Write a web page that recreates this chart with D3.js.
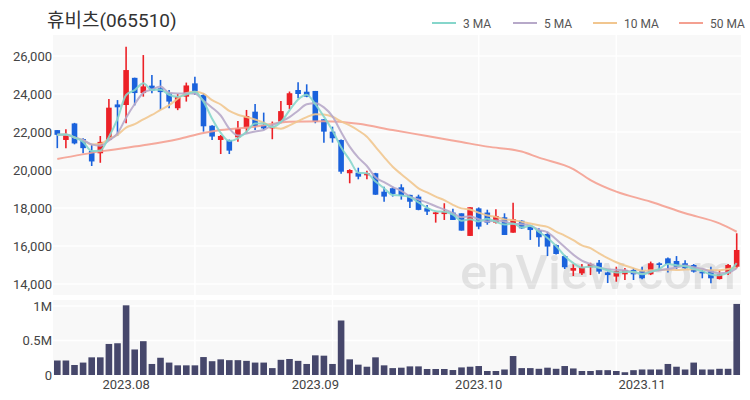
<!DOCTYPE html>
<html><head><meta charset="utf-8">
<script src="https://cdn.jsdelivr.net/npm/d3@7"></script>
<style>
body{margin:0;background:#fff}
text{font-family:Roboto,"Noto Sans CJK KR","Noto Sans",sans-serif}
</style>
</head><body>
<svg id="c" width="750" height="400"></svg>
<script>
const dates = [
"2023-07-20","2023-07-21","2023-07-24","2023-07-25","2023-07-26","2023-07-27","2023-07-28","2023-07-31",
"2023-08-01","2023-08-02","2023-08-03","2023-08-04","2023-08-07","2023-08-08","2023-08-09","2023-08-10","2023-08-11","2023-08-14","2023-08-16","2023-08-17","2023-08-18","2023-08-21","2023-08-22","2023-08-23","2023-08-24","2023-08-25","2023-08-28","2023-08-29","2023-08-30","2023-08-31",
"2023-09-01","2023-09-04","2023-09-05","2023-09-06","2023-09-07","2023-09-08","2023-09-11","2023-09-12","2023-09-13","2023-09-14","2023-09-15","2023-09-18","2023-09-19","2023-09-20","2023-09-21","2023-09-22","2023-09-25","2023-09-26","2023-09-27",
"2023-10-04","2023-10-05","2023-10-06","2023-10-10","2023-10-11","2023-10-12","2023-10-13","2023-10-16","2023-10-17","2023-10-18","2023-10-19","2023-10-20","2023-10-23","2023-10-24","2023-10-25","2023-10-26","2023-10-27","2023-10-30","2023-10-31",
"2023-11-01","2023-11-02","2023-11-03","2023-11-06","2023-11-07","2023-11-08","2023-11-09","2023-11-10","2023-11-13","2023-11-14","2023-11-15","2023-11-16"];

const openP = [22100,21580,22450,21630,21000,20880,21580,23450,23420,24850,24050,24440,24300,24040,23250,23860,24560,23950,22330,21580,
21580,21720,22190,23070,22370,22190,22550,23420,24210,24120,24160,22670,22020,21580,19830,19860,19720,19830,18860,19040,
19090,18690,18600,17990,17680,17680,17760,17720,16530,17980,17760,17230,17510,16700,17330,17020,16840,16630,16050,15470,
14700,14560,14880,15120,14610,14390,14510,14740,14680,14510,15090,15350,15210,15090,15000,14650,14740,14260,14560,14910];
const highP = [22100,22140,22480,21670,21320,21790,23740,23680,26490,24860,26050,25000,24740,24210,24000,24600,24910,24040,22350,21840,
21600,22580,23160,23470,23020,22550,23630,24130,24620,24510,24160,22670,22280,21600,20040,20120,19960,19850,19120,19120,
19250,18700,18700,18160,17790,18250,17960,17720,18040,18030,17910,17930,17720,18280,17360,17060,16930,16750,16080,15530,
15050,15050,15120,15260,14650,14910,14840,14840,14910,15180,15140,15390,15470,15250,15050,14740,14910,14740,15050,16670];
const lowP = [21150,21140,21350,20880,20210,20380,21550,21800,22460,23400,23860,24040,23160,23250,23150,23600,23950,22020,21580,20840,
20840,21490,21930,22100,22100,21620,22460,23200,23770,23830,22460,21440,21440,19800,19300,19510,19510,18690,18330,18600,
18440,18000,17880,17630,17230,17370,17370,16810,16530,16880,17120,17190,16580,16700,16900,16320,15960,15470,15550,14790,
14420,14470,14470,14540,14050,14120,14210,14210,14250,14470,14740,14610,14790,14790,14600,14300,14040,14240,14470,14830];
const closeP = [21850,21880,21400,21150,20450,21480,23280,23300,25260,24050,24400,24180,24100,23600,23850,24450,24040,22300,21760,21790,
21020,22190,22840,22300,22190,22280,23100,24040,24000,23860,22550,22020,21670,19910,20000,19650,19830,18700,18600,18740,
18650,18330,17900,17810,17770,17810,17370,16810,18040,17020,17230,17580,16580,17410,16930,16840,16460,15970,15580,14880,
14840,14880,15050,14650,14470,14680,14740,14510,14300,15090,15000,15050,14910,14830,14650,14560,14300,14510,15000,15790];
const volume = [210000,210000,145000,180000,256000,256000,450000,460000,1010000,370000,490000,160000,250000,180000,140000,140000,140000,260000,200000,227000,
215000,215000,205000,180000,180000,100000,220000,232000,205000,160000,285000,280000,160000,790000,227000,150000,120000,256000,140000,100000,
106000,125000,125000,87000,87000,87000,72000,110000,120000,130000,58000,58000,80000,275000,100000,100000,90000,106000,90000,130000,
95000,58000,58000,70000,70000,58000,40000,70000,80000,80000,80000,160000,120000,80000,180000,80000,80000,90000,90000,1030000];

// 50-day MA at sample candles
const ma50Idx = [0,5,10,14,17,19,23,27,31,35,39,43,47,50,54,56,60,62,65,69,73,77,79];
const ma50Val = [20580,20980,21300,21620,21950,22100,22280,22540,22560,22430,22100,21790,21470,21230,20970,20650,20050,19470,18860,18330,17720,17190,16750];

const priceTicks = [14000,16000,18000,20000,22000,24000,26000];
const volTicks = [0,500000,1000000];
const volTickLabels = ["0","0.5M","1M"];
const monthTickDates = ["2023-08-01","2023-09-01","2023-10-04","2023-11-01"];
const monthTickLabels = ["2023.08","2023.09","2023.10","2023.11"];
const gridDates = ["2023-08-11","2023-09-05","2023-10-04","2023-10-27"];
const maNames = ["3 MA","5 MA","10 MA","50 MA"];
const maColors = ["#86d6cb","#b7a9c9","#f1c68f","#f4a091"];

const svg = d3.select("#c");
const L = 53, R = 741;
const mainTop = 35, mainBot = 295, volTop = 300, volBot = 375;

const x = d3.scaleBand().domain(dates).range([L, R]);
const xc = d => x(d) + x.bandwidth()/2;
const y = d3.scaleLinear().domain([13421, 27105]).range([mainBot, mainTop]);
const yv = d3.scaleLinear().domain([0, 1087000]).range([volBot, volTop]);

// panels
svg.append("rect").attr("x",L).attr("y",mainTop).attr("width",R-L).attr("height",mainBot-mainTop).attr("fill","#f8f8f8");
svg.append("rect").attr("x",L).attr("y",volTop).attr("width",R-L).attr("height",volBot-volTop).attr("fill","#f8f8f8");

// gridlines
svg.append("g").selectAll("line").data(priceTicks).join("line")
  .attr("x1",L).attr("x2",R).attr("y1",d=>y(d)).attr("y2",d=>y(d)).attr("stroke","#fff").attr("stroke-width",1.5);
svg.append("g").selectAll("line").data(volTicks.slice(1)).join("line")
  .attr("x1",L).attr("x2",R).attr("y1",d=>yv(d)).attr("y2",d=>yv(d)).attr("stroke","#fff").attr("stroke-width",1.5);
const vg = svg.append("g");
vg.selectAll("line.a").data(gridDates).join("line").attr("class","a")
  .attr("x1",d=>xc(d)).attr("x2",d=>xc(d)).attr("y1",mainTop).attr("y2",mainBot).attr("stroke","#fff").attr("stroke-width",1.5);
vg.selectAll("line.b").data(gridDates).join("line").attr("class","b")
  .attr("x1",d=>xc(d)).attr("x2",d=>xc(d)).attr("y1",volTop).attr("y2",volBot).attr("stroke","#fff").attr("stroke-width",1.5);

// watermark
svg.append("text").attr("x",460).attr("y",289).attr("font-size",48).attr("font-weight",500).attr("fill","#000").attr("fill-opacity",0.09)
  .attr("textLength",276).attr("lengthAdjust","spacingAndGlyphs")
  .attr("font-family","Roboto, sans-serif").text("enView.com");

// y axis labels
const ya = d3.axisLeft(y).tickValues(priceTicks).tickFormat(d3.format(",")).tickSize(0).tickPadding(0);
const yag = svg.append("g").attr("transform",`translate(${L-1},0)`).call(ya);
yag.select(".domain").remove();
yag.selectAll("text").attr("font-size",13).attr("fill","#444").attr("font-family","Roboto, sans-serif");

const yva = d3.axisLeft(yv).tickValues(volTicks).tickFormat((d,i)=>volTickLabels[i]).tickSize(0).tickPadding(0);
const yvg = svg.append("g").attr("transform",`translate(${L-1},0)`).call(yva);
yvg.select(".domain").remove();
yvg.selectAll("text").attr("font-size",13).attr("fill","#444").attr("font-family","Roboto, sans-serif");

// x axis labels
const xa = d3.axisBottom(x).tickValues(monthTickDates).tickFormat((d,i)=>monthTickLabels[i]).tickSize(0).tickPadding(0);
const xag = svg.append("g").attr("transform",`translate(0,${volBot+5})`).call(xa);
xag.select(".domain").remove();
xag.selectAll("text").attr("font-size",13).attr("fill","#444").attr("font-family","Roboto, sans-serif");

// volume bars
const vbw = 6.6;
svg.append("g").selectAll("rect").data(dates).join("rect")
  .attr("x",d=>xc(d)-vbw/2).attr("width",vbw)
  .attr("y",(d,i)=>yv(volume[i])).attr("height",(d,i)=>volBot-yv(volume[i]))
  .attr("fill","#46476b");

// candles
const up = "#ec2127", dn = "#1a62dc";
const cg = svg.append("g");
const cw = 5.6;
dates.forEach((d,i)=>{
  const col = closeP[i] >= openP[i] ? up : dn;
  cg.append("line").attr("x1",xc(d)).attr("x2",xc(d)).attr("y1",y(highP[i])).attr("y2",y(lowP[i]))
    .attr("stroke",col).attr("stroke-width",1.6);
  const t = y(Math.max(openP[i],closeP[i])), b = y(Math.min(openP[i],closeP[i]));
  cg.append("rect").attr("x",xc(d)-cw/2).attr("width",cw).attr("y",t).attr("height",Math.max(1.2,b-t)).attr("fill",col);
});

// moving averages of closes
function ma(n){ return closeP.map((c,i)=>{ const s = closeP.slice(Math.max(0,i-n+1), i+1); return d3.mean(s); }); }
const ma3 = ma(3), ma5 = ma(5), ma10 = ma(10);
const line = d3.line().x(p=>p[0]).y(p=>y(p[1])).curve(d3.curveMonotoneX);
const series = [
  {v: ma50Idx.map((k,j)=>[xc(dates[k]), ma50Val[j]]), c: maColors[3]},
  {v: dates.map((d,i)=>[xc(d), ma10[i]]), c: maColors[2]},
  {v: dates.map((d,i)=>[xc(d), ma5[i]]), c: maColors[1]},
  {v: dates.map((d,i)=>[xc(d), ma3[i]]), c: maColors[0]}
];
series.forEach(s=>{
  svg.append("path").attr("d",line(s.v)).attr("fill","none").attr("stroke",s.c).attr("stroke-width",2).attr("stroke-opacity",0.9);
});

// title
svg.append("text").attr("x",47).attr("y",27).attr("font-size",19).attr("fill","#333")
  .attr("font-family","'Noto Sans CJK KR', Roboto, sans-serif").text("휴비츠(065510)");

// legend
const legX = [432,513,593,679];
const lg = svg.append("g");
maNames.forEach((n,i)=>{
  lg.append("line").attr("x1",legX[i]).attr("x2",legX[i]+24).attr("y1",23).attr("y2",23).attr("stroke",maColors[i]).attr("stroke-width",2);
  lg.append("text").attr("x",legX[i]+31).attr("y",27.5).attr("font-size",12).attr("fill","#555").text(n);
});
</script>
</body></html>
